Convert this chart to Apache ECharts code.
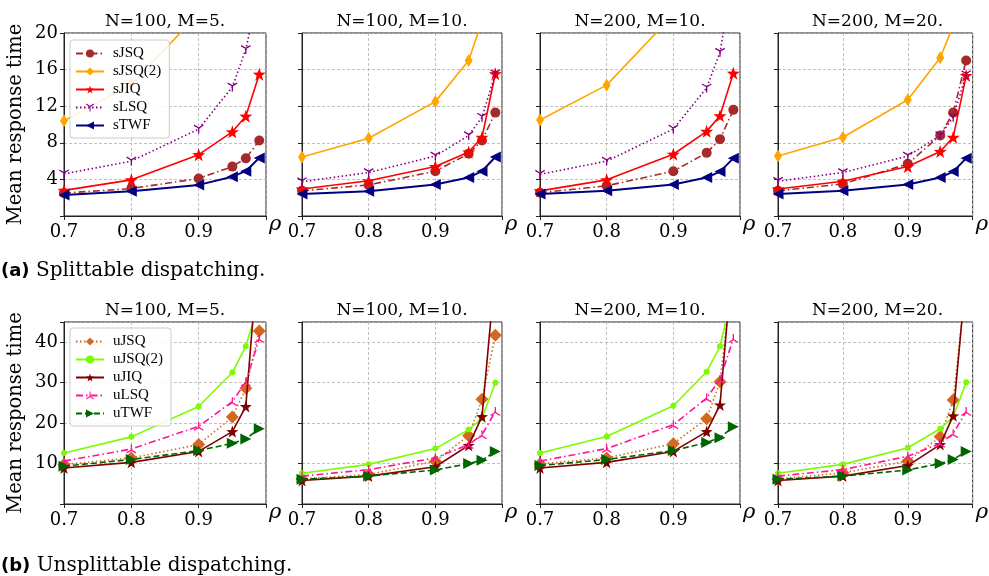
<!DOCTYPE html>
<html>
<head>
<meta charset="utf-8">
<script src="https://cdn.jsdelivr.net/npm/echarts@6/dist/echarts.min.js"></script>
<style>html,body{margin:0;padding:0;background:#fff}#c{width:989px;height:576px}</style>
</head>
<body>
<div id="c"></div>
<script>
// ---------- data ----------
const rho = [0.7, 0.8, 0.9, 0.95, 0.97, 0.99];
const panelTitles = ['N=100, M=5.', 'N=100, M=10.', 'N=200, M=10.', 'N=200, M=20.'];
const splitNames = ['sJSQ', 'sJSQ(2)', 'sJIQ', 'sLSQ', 'sTWF'];
const unsplitNames = ['uJSQ', 'uJSQ(2)', 'uJIQ', 'uLSQ', 'uTWF'];
const captions = ['Splittable dispatching.', 'Unsplittable dispatching.'];
const captionTags = ['(a)', '(b)'];
const yLabel = 'Mean response time';

// splittable, panel N=100 M=5
const sJSQ_100_5  = [2.5, 3.0, 4.1, 5.4, 6.3, 8.25];
const sJSQ2_100_5 = [10.4, 14.4, 22.1, 30, 36, 48];
const sJIQ_100_5  = [2.8, 3.95, 6.7, 9.2, 10.9, 15.5];
const sLSQ_100_5  = [4.6, 6.0, 9.5, 14.1, 18.2, 25];
const sTWF_100_5  = [2.3, 2.7, 3.4, 4.3, 4.9, 6.35];
// N=100 M=10
const sJSQ_100_10  = [2.75, 3.4, 4.9, 6.8, 8.25, 11.3];
const sJSQ2_100_10 = [6.45, 8.5, 12.5, 17.0, 21.3, 28];
const sJIQ_100_10  = [2.95, 3.85, 5.4, 7.0, 8.6, 15.55];
const sLSQ_100_10  = [3.75, 4.75, 6.55, 8.8, 10.8, 15.55];
const sTWF_100_10  = [2.4, 2.7, 3.45, 4.2, 4.9, 6.45];
// N=200 M=10
const sJSQ_200_10  = [2.55, 3.3, 4.9, 6.9, 8.4, 11.6];
const sJSQ2_200_10 = [10.5, 14.3, 22, 30, 36, 48];
const sJIQ_200_10  = [2.75, 3.95, 6.75, 9.25, 10.95, 15.6];
const sLSQ_200_10  = [4.55, 6.0, 9.5, 14.0, 17.9, 26.5];
const sTWF_200_10  = [2.4, 2.75, 3.45, 4.2, 4.85, 6.3];
// N=200 M=20
const sJSQ_200_20  = [2.75, 3.5, 5.7, 8.8, 11.3, 17.0];
const sJSQ2_200_20 = [6.55, 8.6, 12.7, 17.3, 20.8, 27];
const sJIQ_200_20  = [2.95, 3.8, 5.4, 7.05, 8.6, 15.35];
const sLSQ_200_20  = [3.8, 4.75, 6.55, 8.8, 10.8, 15.45];
const sTWF_200_20  = [2.4, 2.75, 3.45, 4.2, 4.85, 6.3];

// unsplittable, N=100 M=5
const uJSQ_100_5  = [9.75, 11.4, 14.7, 21.5, 28.6, 42.8];
const uJSQ2_100_5 = [12.6, 16.6, 24.1, 32.5, 39.0, 50];
const uJIQ_100_5  = [8.9, 10.3, 13.0, 17.9, 24.1, 65];
const uLSQ_100_5  = [10.6, 13.6, 19.2, 25.3, 30.2, 40.9];
const uTWF_100_5  = [9.35, 11.0, 13.2, 15.0, 16.1, 18.6];
// N=100 M=10
const uJSQ_100_10  = [6.2, 7.3, 10.6, 16.9, 25.9, 41.7];
const uJSQ2_100_10 = [7.6, 9.8, 13.7, 18.4, 21.2, 30.0];
const uJIQ_100_10  = [5.8, 6.9, 9.2, 14.5, 21.6, 58];
const uLSQ_100_10  = [6.9, 8.5, 11.4, 14.7, 17.1, 22.9];
const uTWF_100_10  = [6.1, 6.9, 8.4, 10.0, 10.8, 13.0];
// N=200 M=10
const uJSQ_200_10  = [9.9, 11.4, 14.9, 21.1, 30.2, 59];
const uJSQ2_200_10 = [12.6, 16.7, 24.3, 32.7, 39.0, 53];
const uJIQ_200_10  = [8.9, 10.3, 13.0, 17.9, 24.5, 63];
const uLSQ_200_10  = [10.6, 13.7, 19.6, 26.2, 30.8, 40.9];
const uTWF_200_10  = [9.5, 11.0, 13.2, 15.2, 16.4, 19.1];
// N=200 M=20
const uJSQ_200_20  = [6.2, 7.7, 10.6, 16.6, 25.7, 55];
const uJSQ2_200_20 = [7.6, 9.8, 13.9, 18.6, 21.6, 30.1];
const uJIQ_200_20  = [5.8, 6.9, 9.5, 14.7, 21.8, 57];
const uLSQ_200_20  = [6.9, 8.5, 11.8, 15.0, 17.4, 22.9];
const uTWF_200_20  = [6.1, 6.9, 8.4, 10.0, 11.0, 13.0];

const splitPanels = [
  [sJSQ_100_5, sJSQ2_100_5, sJIQ_100_5, sLSQ_100_5, sTWF_100_5],
  [sJSQ_100_10, sJSQ2_100_10, sJIQ_100_10, sLSQ_100_10, sTWF_100_10],
  [sJSQ_200_10, sJSQ2_200_10, sJIQ_200_10, sLSQ_200_10, sTWF_200_10],
  [sJSQ_200_20, sJSQ2_200_20, sJIQ_200_20, sLSQ_200_20, sTWF_200_20]
];
const unsplitPanels = [
  [uJSQ_100_5, uJSQ2_100_5, uJIQ_100_5, uLSQ_100_5, uTWF_100_5],
  [uJSQ_100_10, uJSQ2_100_10, uJIQ_100_10, uLSQ_100_10, uTWF_100_10],
  [uJSQ_200_10, uJSQ2_200_10, uJIQ_200_10, uLSQ_200_10, uTWF_200_10],
  [uJSQ_200_20, uJSQ2_200_20, uJIQ_200_20, uLSQ_200_20, uTWF_200_20]
];

// ---------- styles ----------
const SERIF = 'DejaVu Serif';
const STAR = 'path://M0,-10L2.35,-3.24L9.51,-3.09L3.8,1.24L5.88,8.09L0,4L-5.88,8.09L-3.8,1.24L-9.51,-3.09L-2.35,-3.24Z';
const THIN_DIAMOND = 'path://M0,-10L6,0L0,10L-6,0Z';
const TRI_DOWN = 'path://M-0.12,0L0.12,0L0.12,1L-0.12,1ZM0.06,-0.104L-0.06,0.104L-0.926,-0.396L-0.806,-0.604ZM0.06,0.104L-0.06,-0.104L0.806,-0.604L0.926,-0.396Z';
const TRI_UP = 'path://M-0.12,0L0.12,0L0.12,-1L-0.12,-1ZM0.06,0.104L-0.06,-0.104L-0.926,0.396L-0.806,0.604ZM0.06,-0.104L-0.06,0.104L0.806,0.604L0.926,0.396Z';

const splitStyles = [
  {color:'#A52A2A', type:[7,3,1.5,3], symbol:'circle', size:10, rot:0},
  {color:'#FFA500', type:'solid', symbol:THIN_DIAMOND, size:[8,13], rot:0},
  {color:'#FF0000', type:'solid', symbol:STAR, size:13, rot:0},
  {color:'#800080', type:[1.5,2.5], symbol:TRI_DOWN, size:[10,9], rot:0},
  {color:'#000080', type:'solid', symbol:'triangle', size:11, rot:90, width:2}
];
const unsplitStyles = [
  {color:'#D2691E', type:[1.5,2.5], symbol:'diamond', size:13, rot:0},
  {color:'#7CFC00', type:'solid', symbol:'circle', size:6, rot:0},
  {color:'#800000', type:'solid', symbol:STAR, size:12, rot:0},
  {color:'#FF1493', type:[7,3,1.5,3], symbol:TRI_UP, size:[10,9], rot:0},
  {color:'#006400', type:[6,3], symbol:'triangle', size:11, rot:-90}
];

// ---------- layout ----------
const colLeft = [64, 302, 540, 778];
const colWidth = [202, 200, 200, 199];
const rowTop = [33, 322];
const rowHeight = [183, 182];

const grids = [], xAxes = [], yAxes = [], series = [], graphics = [];
for (let r = 0; r < 2; r++) {
  for (let c = 0; c < 4; c++) {
    const idx = r * 4 + c;
    grids.push({left: colLeft[c], top: rowTop[r], width: colWidth[c], height: rowHeight[r],
      show: true, borderColor: '#222', borderWidth: 1, backgroundColor: '#fff'});
    xAxes.push({
      gridIndex: idx, type: 'value', min: 0.7, max: 1.0, interval: 0.1,
      axisLine: {show: true, onZero: false, lineStyle: {color: '#222', width: 1}},
      axisTick: {show: true, length: 4, lineStyle: {color: '#222'}},
      axisLabel: {formatter: v => (v > 0.95 ? '' : v.toFixed(1)), fontFamily: SERIF, fontSize: 18, color: '#000', margin: 7},
      splitLine: {show: true, lineStyle: {color: '#b0b0b0', type: [3, 2], width: 0.8}},
      name: 'ρ', nameLocation: 'end', nameGap: 3,
      nameTextStyle: {fontFamily: SERIF, fontStyle: 'italic', fontSize: 21, color: '#000', verticalAlign: 'top', padding: [-2, 0, 0, 0]}
    });
    const ymax = r === 0 ? 20 : 45;
    yAxes.push({
      gridIndex: idx, type: 'value', min: 0, max: ymax, interval: r === 0 ? 4 : 10,
      axisLine: {show: true, onZero: false, lineStyle: {color: '#222', width: 1}},
      axisTick: {show: true, length: 4, lineStyle: {color: '#222'}},
      axisLabel: {show: c === 0, formatter: v => (v === 0 || v === 45 ? '' : String(v)), fontFamily: SERIF, fontSize: 18, color: '#000', margin: 6},
      splitLine: {show: true, lineStyle: {color: '#b0b0b0', type: [3, 2], width: 0.8}},
      name: c === 0 ? yLabel : '', nameLocation: 'middle', nameGap: 38,
      nameTextStyle: {fontFamily: SERIF, fontSize: 19.5, color: '#000'}
    });
    const names = r === 0 ? splitNames : unsplitNames;
    const styles = r === 0 ? splitStyles : unsplitStyles;
    const vals = r === 0 ? splitPanels[c] : unsplitPanels[c];
    for (let s = 0; s < 5; s++) {
      const st = styles[s];
      series.push({
        type: 'line', name: names[s], xAxisIndex: idx, yAxisIndex: idx,
        data: rho.map((x, k) => [x, vals[s][k]]),
        symbol: st.symbol, symbolSize: st.size, symbolRotate: st.rot, showSymbol: true,
        lineStyle: {color: st.color, width: st.width || 1.6, type: st.type},
        itemStyle: {color: st.color, borderWidth: 0},
        clip: true, animation: false, z: 2 + s, silent: true
      });
    }
    graphics.push({type: 'text', x: colLeft[c] + colWidth[c] / 2, y: rowTop[r] - 11,
      style: {text: panelTitles[c], fontFamily: SERIF, fontSize: 17, fill: '#000', align: 'center', verticalAlign: 'middle'}});
  }
}
const captionY = [271, 566];
for (let r = 0; r < 2; r++) {
  graphics.push({type: 'text', x: 1, y: captionY[r],
    style: {text: '{t|' + captionTags[r] + '} ' + captions[r], fontFamily: SERIF, fontSize: 20, fill: '#000',
      verticalAlign: 'middle',
      rich: {t: {fontFamily: 'DejaVu Sans', fontWeight: 'bold', fontSize: 18, fill: '#000'}}}});
}

const legendCommon = {
  orient: 'vertical', left: 70, itemWidth: 28, itemHeight: 10, itemGap: 3,
  backgroundColor: 'rgba(255,255,255,0.85)', borderColor: '#ccc', borderWidth: 1, borderRadius: 3,
  padding: [6, 8, 5, 5], selectedMode: false,
  textStyle: {fontFamily: 'Liberation Serif', fontSize: 15, color: '#000', padding: [0, 0, 0, 4]}
};
const legends = [
  Object.assign({}, legendCommon, {top: 40, data: splitNames}),
  Object.assign({}, legendCommon, {top: 328, data: unsplitNames})
];

const chart = echarts.init(document.getElementById('c'), null, {renderer: 'canvas'});
chart.setOption({
  animation: false,
  backgroundColor: '#fff',
  grid: grids, xAxis: xAxes, yAxis: yAxes, series: series,
  legend: legends, graphic: graphics
});
</script>
</body>
</html>
